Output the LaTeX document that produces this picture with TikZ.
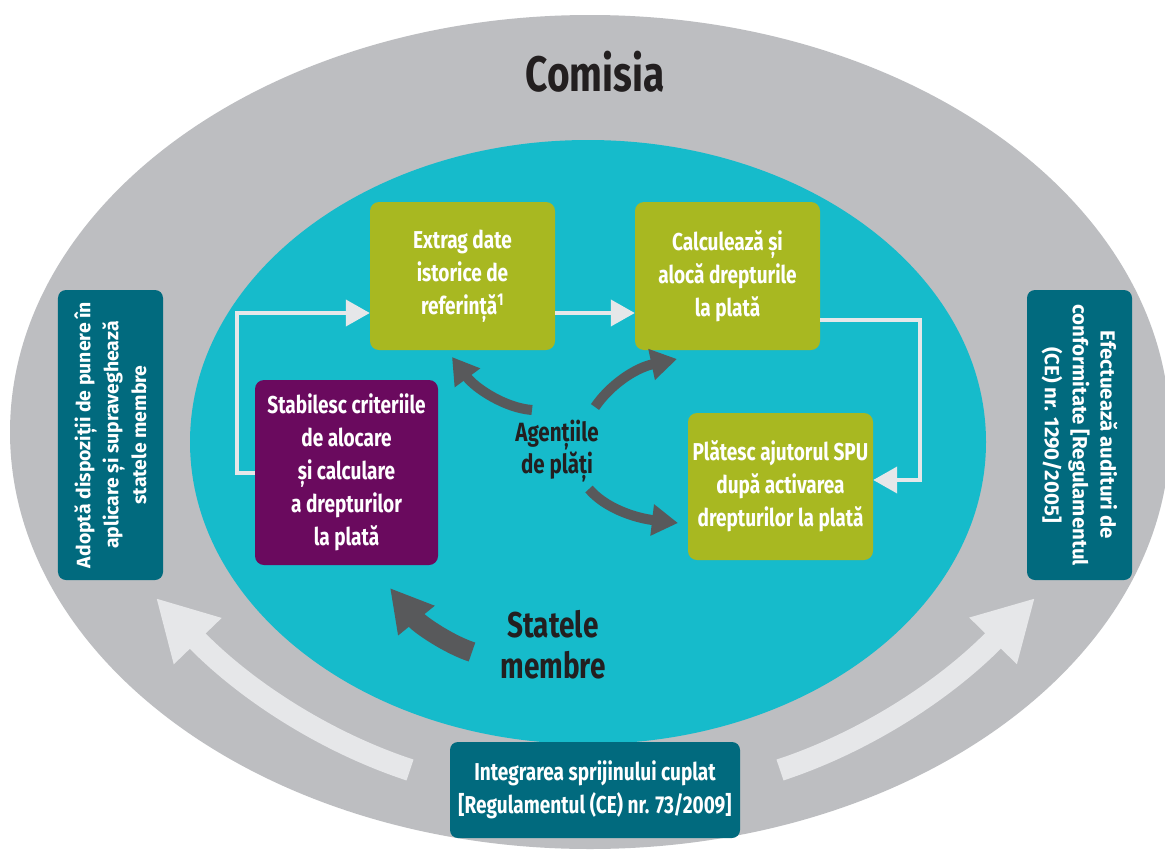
\documentclass[tikz,border=0pt]{standalone}
\usepackage{fontspec}
\setmainfont{Fira Sans}[FakeStretch=0.78]
\newfontfamily\sidefont{Fira Sans}
\usetikzlibrary{arrows.meta,calc}
\definecolor{ringgray}{HTML}{BDBEC1}
\definecolor{innerteal}{HTML}{16BBCB}
\definecolor{boxteal}{HTML}{016A7E}
\definecolor{boxgreen}{HTML}{A8B821}
\definecolor{boxpurple}{HTML}{6A0A5E}
\definecolor{darkarrow}{HTML}{58595B}
\definecolor{lightarrow}{HTML}{E6E7E9}
\definecolor{darktext}{HTML}{231F20}
\tikzset{
  stepbox/.style={rounded corners=9bp, text=white, align=center, inner sep=0pt,
    font=\bfseries\fontsize{24.5}{33}\selectfont},
  greenbox/.style={stepbox, fill=boxgreen, minimum width=185bp, minimum height=148bp},
  purplebox/.style={stepbox, fill=boxpurple, minimum width=183bp, minimum height=185bp},
  sidebox/.style={rounded corners=8bp, fill=boxteal, text=white, align=center, inner sep=0pt,
    font=\sidefont\bfseries\fontsize{19.5}{28}\selectfont},
  lightline/.style={draw=lightarrow, line width=4bp, -{Triangle[width=26bp,length=24bp]}},
  darkcurve/.style={draw=darkarrow, line width=10bp, -{Triangle[width=30bp,length=26bp]}},
  bigdark/.style={draw=darkarrow, line width=20bp, -{Triangle[width=44bp,length=42bp]}},
  biglight/.style={draw=lightarrow, line width=22bp, -{Triangle[width=62bp,length=60bp]}},
  labeltext/.style={text=darktext, align=center, inner sep=0pt},
}
\begin{document}
\begin{tikzpicture}[x=1bp,y=-1bp]
\useasboundingbox (0,0) rectangle (1165,852);
\fill[white] (0,0) rectangle (1165,852);
\begin{scope}
  \clip (0,0) rectangle (1165,852);
  \fill[ringgray] (590,432) ellipse [x radius=580, y radius=417];
\end{scope}
\fill[innerteal] (588,442) ellipse [x radius=398, y radius=302];

% title
\node[labeltext, font=\bfseries\fontsize{50}{56}\selectfont] (com) at (595,72) {Comisia};

% side boxes
\node[sidebox, rotate=90, minimum width=290bp, minimum height=105bp] (L) at (110.5,435)
  {Adoptă dispoziții de punere în\\aplicare și supraveghează\\statele membre};
\node[sidebox, font=\sidefont\bfseries\fontsize{20.5}{28}\selectfont, rotate=-90, minimum width=290bp, minimum height=105bp] (R) at (1079.5,435)
  {Efectuează audituri de\\conformitate [Regulamentul\\(CE) nr. 1290/2005]};
\node[sidebox, font=\bfseries\fontsize{24.5}{33}\selectfont, minimum width=290bp, minimum height=96bp] (bot) at (595,790)
  {Integrarea sprijinului cuplat\\{}[Regulamentul (CE) nr. 73/2009]};

% step boxes
\node[greenbox] (A) at (462.5,276) {Extrag date\\istorice de\\referință\textsuperscript{1}};
\node[greenbox] (B) at (727.5,276) {Calculează și\\alocă drepturile\\la plată};
\node[greenbox, minimum height=147bp] (C) at (780.5,486.5) {Plătesc ajutorul SPU\\după activarea\\drepturilor la plată};
\node[purplebox] (P) at (346.5,472.5) {Stabilesc criteriile\\de alocare\\și calculare\\a drepturilor\\la plată};

% labels
\node[labeltext, font=\bfseries\fontsize{26.5}{32}\selectfont] (ag) at (557,451) {Agențiile\\de plăți};
\node[labeltext, font=\bfseries\fontsize{36}{41}\selectfont] (st) at (553,645) {Statele\\membre};

% light connectors
\draw[lightline] (P.west) -- ++(-18,0) |- ([yshift=-37bp]A.west);
\draw[lightline] ([yshift=-37bp]A.east) -- ([yshift=-37bp]B.west);
\draw[lightline] ([yshift=-44bp]B.east) -- ++(100,0) |- ([yshift=6.5bp]C.east);

% dark curved arrows
\coordinate (t1) at (532,410);
\coordinate (h1) at (452,357);
\coordinate (t2) at (595,407);
\coordinate (h2) at (677,359);
\coordinate (t3) at (589,489);
\coordinate (h3) at (678,523);
\coordinate (t4) at (472,652);
\coordinate (h4) at (390,588);
\draw[darkcurve] (t1) .. controls (505,408) and (475,388) .. (h1);
\draw[darkcurve] (t2) .. controls (610,385) and (635,368) .. (h2);
\draw[darkcurve] (t3) .. controls (605,508) and (635,518) .. (h3);
\draw[bigdark] (t4) .. controls (450,645) and (420,625) .. (h4);

% big light arrows
\coordinate (t5) at (410,770);
\coordinate (h5) at (156,598);
\coordinate (t6) at (780,770);
\coordinate (h6) at (1035,598);
\draw[biglight] (t5) .. controls (325,742) and (245,690) .. (h5);
\draw[biglight] (t6) .. controls (865,742) and (945,690) .. (h6);
\end{tikzpicture}
\end{document}
